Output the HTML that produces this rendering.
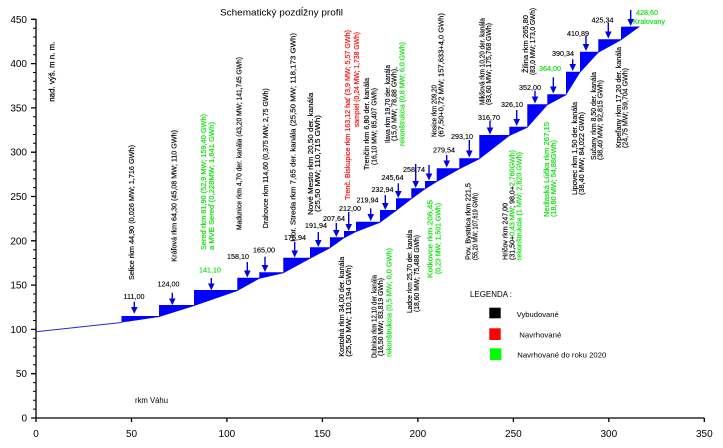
<!DOCTYPE html>
<html><head><meta charset="utf-8"><style>
html,body{margin:0;padding:0;background:#fff;}
svg{display:block;}
text{font-family:"Liberation Sans","DejaVu Sans",sans-serif;}
.v{font-size:7px;fill:#000;stroke:#000;stroke-width:0.15;}
.v .g,.g{fill:#00e000;stroke:#00e000;}
.v .r,.r{fill:#ff0000;stroke:#ff0000;}
.n{font-size:7.2px;text-anchor:middle;fill:#000;stroke:#000;stroke-width:0.12;}
.n.g{fill:#00e000;stroke:#00e000;}
.ax{font-size:10px;fill:#000;}
</style></head><body>
<svg width="723" height="448" viewBox="0 0 723 448" xmlns="http://www.w3.org/2000/svg">
<rect width="723" height="448" fill="#fff"/>
<!-- title -->
<text x="220" y="15.5" font-size="9.5" textLength="123" lengthAdjust="spacingAndGlyphs">Schematický pozdĺžny profil</text>
<!-- y axis title -->
<text transform="translate(54.5,101.7) rotate(-90)" font-size="8" textLength="60" lengthAdjust="spacingAndGlyphs" stroke="#000" stroke-width="0.2">nad. výš. m n. m.</text>

<!-- axes -->
<g stroke="#000" stroke-width="1.3" fill="none">
<line x1="36" y1="19" x2="36" y2="418.5"/>
<line x1="35.5" y1="418" x2="704.5" y2="418"/>
<path d="M31 418H36M31 373.7H36M31 329.4H36M31 285.1H36M31 240.8H36M31 196.5H36M31 152.2H36M31 107.9H36M31 63.6H36M31 19.3H36"/>
<path d="M36 418V422M131.5 418V422M226.9 418V422M322.4 418V422M417.9 418V422M513.4 418V422M608.8 418V422M704.3 418V422"/>
</g>
<g stroke="#000" stroke-width="1" fill="none">
<path d="M33 409.1H36M33 400.3H36M33 391.4H36M33 382.6H36M33 364.8H36M33 356H36M33 347.1H36M33 338.3H36M33 320.5H36M33 311.7H36M33 302.8H36M33 294H36M33 276.2H36M33 267.4H36M33 258.5H36M33 249.7H36M33 231.9H36M33 223.1H36M33 214.2H36M33 205.4H36M33 187.6H36M33 178.8H36M33 169.9H36M33 161.1H36M33 143.3H36M33 134.5H36M33 125.6H36M33 116.8H36M33 99H36M33 90.2H36M33 81.3H36M33 72.5H36M33 54.7H36M33 45.9H36M33 37H36M33 28.2H36"/>
</g>
<!-- y labels -->
<g class="ax" text-anchor="end">
<text x="27" y="421.5">0</text>
<text x="27" y="377.2">50</text>
<text x="27" y="332.9">100</text>
<text x="27" y="288.6">150</text>
<text x="27" y="244.3">200</text>
<text x="27" y="200">250</text>
<text x="27" y="155.7">300</text>
<text x="27" y="111.4">350</text>
<text x="27" y="67.1">400</text>
<text x="27" y="22.8">450</text>
</g>
<!-- x labels -->
<g class="ax" text-anchor="middle">
<text x="36" y="437">0</text>
<text x="131.5" y="437">50</text>
<text x="226.9" y="437">100</text>
<text x="322.4" y="437">150</text>
<text x="417.9" y="437">200</text>
<text x="513.4" y="437">250</text>
<text x="608.8" y="437">300</text>
<text x="704.3" y="437">350</text>
</g>
<text x="135" y="403" font-size="8" textLength="33" lengthAdjust="spacingAndGlyphs">rkm Váhu</text>

<!-- river profile -->
<line x1="36" y1="331.7" x2="121.5" y2="322.5" stroke="#2828d8" stroke-width="1"/>
<polygon fill="#0000ff" points="121.5,316 159,316 159,305 194,305 194,290 237.3,290 237.3,277.7 259.3,277.7 259.3,272.3 283.3,272.3 283.3,257.7 310,257.7 310,247.3 330,247.3 330,237.3 344,237.3 344,231 356,231 356,221.7 380,221.7 380,210 396,210 396,198.3 411.3,198.3 411.3,188.3 425,188.3 425,181 436.7,181 436.7,168.3 459.3,168.3 459.3,158.3 479.3,158.3 479.3,135 509.3,135 509.3,126.7 527.3,126.7 527.3,104.3 547.3,104.3 547.3,94.3 566,94.3 566,71.7 580,71.7 580,51.7 598.3,51.7 598.3,39.3 621,39.3 621,26.7 640,26.5 621,40.3 598.3,52.7 580,72.7 566,95.3 547.3,105.3 527.3,127.7 509.3,136 479.3,159.3 459.3,169.3 436.7,182 425,189.3 411.3,199.3 396,211 380,222.7 356,232 344,238.3 330,248.3 310,258.7 283.3,273.3 259.3,278.7 237.3,291 194,306 159,317 121.5,322.5"/>

<!-- arrows -->
<g stroke="#0000e0" stroke-width="1.4">
<line x1="134.3" y1="301.7" x2="134.3" y2="309"/>
<line x1="172.3" y1="292.7" x2="172.3" y2="300"/>
<line x1="211.3" y1="278" x2="211.3" y2="285"/>
<line x1="247.3" y1="262" x2="247.3" y2="272"/>
<line x1="265" y1="256.7" x2="265" y2="266.5"/>
<line x1="294.7" y1="242" x2="294.7" y2="252"/>
<line x1="318.3" y1="232" x2="318.3" y2="241.5"/>
<line x1="336.3" y1="223" x2="336.3" y2="231.5"/>
<line x1="348.7" y1="212" x2="348.7" y2="225.5"/>
<line x1="370.7" y1="208.3" x2="370.7" y2="215.5"/>
<line x1="385.3" y1="195" x2="385.3" y2="204.5"/>
<line x1="398.3" y1="183.3" x2="398.3" y2="192.5"/>
<line x1="415.7" y1="164" x2="415.7" y2="182.5"/>
<line x1="429" y1="165" x2="429" y2="175"/>
<line x1="446.7" y1="155" x2="446.7" y2="162"/>
<line x1="469.3" y1="140" x2="469.3" y2="152"/>
<line x1="490" y1="120.7" x2="490" y2="129"/>
<line x1="516.7" y1="110" x2="516.7" y2="120.5"/>
<line x1="535" y1="90.7" x2="535" y2="98"/>
<line x1="553.3" y1="77.3" x2="553.3" y2="88"/>
<line x1="572.7" y1="59.3" x2="572.7" y2="65.5"/>
<line x1="586" y1="35.7" x2="586" y2="45.5"/>
<line x1="608.3" y1="22.7" x2="608.3" y2="33"/>
<line x1="630.7" y1="10" x2="630.7" y2="20.5"/>
</g>
<g fill="#0000e0">
<polygon points="131,307 137.6,307 134.3,313.8"/>
<polygon points="169,298.5 175.6,298.5 172.3,305.3"/>
<polygon points="208,283.5 214.6,283.5 211.3,290.3"/>
<polygon points="244,270.5 250.6,270.5 247.3,277.5"/>
<polygon points="261.7,265 268.3,265 265,272"/>
<polygon points="291.4,250.5 298,250.5 294.7,257.5"/>
<polygon points="315,240 321.6,240 318.3,247"/>
<polygon points="333,230 339.6,230 336.3,237"/>
<polygon points="345.4,224 352,224 348.7,231"/>
<polygon points="367.4,214 374,214 370.7,221"/>
<polygon points="382,203 388.6,203 385.3,210"/>
<polygon points="395,191 401.6,191 398.3,198"/>
<polygon points="412.4,181 419,181 415.7,188"/>
<polygon points="425.7,173.5 432.3,173.5 429,180.5"/>
<polygon points="443.4,160.5 450,160.5 446.7,167.5"/>
<polygon points="466,150.5 472.6,150.5 469.3,157.5"/>
<polygon points="486.7,127.5 493.3,127.5 490,134.5"/>
<polygon points="513.4,119 520,119 516.7,126"/>
<polygon points="531.7,96.5 538.3,96.5 535,103.5"/>
<polygon points="550,86.5 556.6,86.5 553.3,93.5"/>
<polygon points="569.4,64 576,64 572.7,71"/>
<polygon points="582.7,44 589.3,44 586,51"/>
<polygon points="605,31.5 611.6,31.5 608.3,38.5"/>
<polygon points="627.4,19 634,19 630.7,26"/>
</g>

<!-- level labels -->
<text class="n" x="134" y="299.2">111,00</text>
<text class="n" x="168.5" y="286.5">124,00</text>
<text class="n g" x="210" y="272.5">141,10</text>
<text class="n" x="238" y="259.2">158,10</text>
<text class="n" x="264" y="252.5">165,00</text>
<text class="n" x="295" y="240.2">175,94</text>
<text class="n" x="316" y="228.2">191,94</text>
<text class="n" x="334" y="220.8">207,64</text>
<text class="n" x="350" y="210.8">212,00</text>
<text class="n" x="367.5" y="202.5">219,94</text>
<text class="n" x="382.5" y="191.8">232,94</text>
<text class="n" x="392.5" y="180">245,64</text>
<text class="n" x="414" y="172">258,74</text>
<text class="n" x="444" y="152.5">279,54</text>
<text class="n" x="462" y="139.2">293,10</text>
<text class="n" x="489" y="119.8">316,70</text>
<text class="n" x="512" y="106.8">326,10</text>
<text class="n" x="530" y="89.8">352,00</text>
<text class="n g" x="550" y="70.8">364,00</text>
<text class="n" x="563" y="55.8">390,34</text>
<text class="n" x="578" y="35.8">410,89</text>
<text class="n" x="602.5" y="22.5">425,34</text>
<text class="n g" x="647" y="15.2">428,60</text>
<text class="n g" x="649" y="24.2">Kralovany</text>

<!-- vertical labels -->
<g class="v">
<text transform="translate(134.2,280) rotate(-90)" textLength="135" lengthAdjust="spacingAndGlyphs">Selice rkm 44,90 (0,026 MW; 1,716 GWh)</text>
<text transform="translate(176.5,261.7) rotate(-90)" textLength="131.7" lengthAdjust="spacingAndGlyphs">Kráľová rkm 64,30 (45,08 MW; 110 GWh)</text>
<text class="g" transform="translate(205.8,250) rotate(-90)" textLength="136" lengthAdjust="spacingAndGlyphs">Sereď rkm 81,90 (52,9 MW; 159,40 GWh)</text>
<text class="g" transform="translate(214.2,250) rotate(-90)" textLength="128" lengthAdjust="spacingAndGlyphs">a MVE Sereď (0,228MW; 1,641 GWh)</text>
<text transform="translate(241.5,230) rotate(-90)" textLength="173" lengthAdjust="spacingAndGlyphs">Madunice rkm 4,70 der. kanála (43,20 MW; 141,745 GWh)</text>
<text transform="translate(268,228.3) rotate(-90)" textLength="140" lengthAdjust="spacingAndGlyphs">Drahovce rkm 114,60 (0,375 MW; 2,75 GWh)</text>
<text transform="translate(295.5,241.7) rotate(-90)" textLength="208.7" lengthAdjust="spacingAndGlyphs">Hor. Streda rkm 7,65 der. kanála (25,50 MW; 118,173 GWh)</text>
<text transform="translate(313,215) rotate(-90)" textLength="122.3" lengthAdjust="spacingAndGlyphs">Nové Mesto rkm 20,50 der. kanála</text>
<text transform="translate(320,212) rotate(-90)" textLength="97" lengthAdjust="spacingAndGlyphs">(25,50 MW; 110,715 GWh)</text>
<text class="r" transform="translate(350,200) rotate(-90)" textLength="170" lengthAdjust="spacingAndGlyphs">Trenč. Biskupice rkm 163,12 hať (3,9 MW; 5,57 GWh)</text>
<text class="r" transform="translate(359,127) rotate(-90)" textLength="95" lengthAdjust="spacingAndGlyphs">sampiel (0,24 MW; 1,738 GWh)</text>
<text transform="translate(369.2,170) rotate(-90)" textLength="92" lengthAdjust="spacingAndGlyphs">Trenčín rkm 6,80 der. kanála</text>
<text transform="translate(376.5,165) rotate(-90)" textLength="77" lengthAdjust="spacingAndGlyphs">(16,10 MW; 85,407 GWh)</text>
<text transform="translate(390,143) rotate(-90)" textLength="78" lengthAdjust="spacingAndGlyphs">Ilava rkm 19,70 der. kanála</text>
<text transform="translate(396.5,141) rotate(-90)" textLength="74" lengthAdjust="spacingAndGlyphs">(15,0 MW; 78,88 GWh),</text>
<text class="g" transform="translate(404.5,146) rotate(-90)" textLength="104" lengthAdjust="spacingAndGlyphs">rekonštrukcia (0,8 MW; 6,0 GWh)</text>
<text transform="translate(436.5,137) rotate(-90)" textLength="52" lengthAdjust="spacingAndGlyphs">Nosice rkm 209,20</text>
<text transform="translate(443.5,137) rotate(-90)" textLength="124" lengthAdjust="spacingAndGlyphs">(67,50+0,72 MW; 157,633+4,0 GWh)</text>
<text transform="translate(484.5,105) rotate(-90)" textLength="87" lengthAdjust="spacingAndGlyphs">Mikšová rkm 10,20 der. kanála</text>
<text transform="translate(491,105) rotate(-90)" textLength="82" lengthAdjust="spacingAndGlyphs">(93,60 MW; 175,768 GWh)</text>
<text transform="translate(528,73) rotate(-90)" textLength="58" lengthAdjust="spacingAndGlyphs">Žilina rkm 265,80</text>
<text transform="translate(535,75) rotate(-90)" textLength="67" lengthAdjust="spacingAndGlyphs">(83,0 MW; 173,0 GWh)</text>

<text transform="translate(344.2,356.7) rotate(-90)" textLength="100" lengthAdjust="spacingAndGlyphs">Kostolná rkm 34,00 der. kanála</text>
<text transform="translate(350.8,356.7) rotate(-90)" textLength="91.7" lengthAdjust="spacingAndGlyphs">(25,50 MW; 110,194 GWh)</text>
<text transform="translate(376.5,358) rotate(-90)" textLength="83" lengthAdjust="spacingAndGlyphs">Dubnica rkm 12,10 der. kanála</text>
<text transform="translate(383.2,356) rotate(-90)" textLength="78" lengthAdjust="spacingAndGlyphs">(16,50 MW; 83,819 GWh)</text>
<text class="g" transform="translate(391.5,356.7) rotate(-90)" textLength="108.7" lengthAdjust="spacingAndGlyphs">rekonštrukcia (0,5 MW; 0,0 GWh)</text>
<text transform="translate(411.8,313) rotate(-90)" textLength="83" lengthAdjust="spacingAndGlyphs">Ladce rkm 25,70 der. kanála</text>
<text transform="translate(419,312) rotate(-90)" textLength="77" lengthAdjust="spacingAndGlyphs">(18,60 MW; 75,488 GWh)</text>
<text class="g" transform="translate(432.5,278) rotate(-90)" textLength="78" lengthAdjust="spacingAndGlyphs">Kotkovce rkm 206,45</text>
<text class="g" transform="translate(440.5,274) rotate(-90)" textLength="71" lengthAdjust="spacingAndGlyphs">(0,23 MW; 1,501 GWh)</text>
<text transform="translate(470.5,260) rotate(-90)" textLength="77" lengthAdjust="spacingAndGlyphs">Pov. Bystrica rkm 221,5</text>
<text transform="translate(477.5,260) rotate(-90)" textLength="67" lengthAdjust="spacingAndGlyphs">(55,20 MW; 107,619 GWh)</text>
<text transform="translate(507.5,260) rotate(-90)" textLength="57" lengthAdjust="spacingAndGlyphs">Hričov rkm 247,00</text>
<text transform="translate(514.5,260) rotate(-90)" textLength="110" lengthAdjust="spacingAndGlyphs">(31,50+<tspan class="g">0,43 MW</tspan>; 98,0+<tspan class="g">2,760GWh)</tspan></text>
<text class="g" transform="translate(521.5,260) rotate(-90)" textLength="108" lengthAdjust="spacingAndGlyphs">rekonštrukcia (1 MW; 2,820 GWh)</text>
<text class="g" transform="translate(549.2,217) rotate(-90)" textLength="95" lengthAdjust="spacingAndGlyphs">Nedlaská Lúčka rkm 267,15</text>
<text class="g" transform="translate(555.8,217) rotate(-90)" textLength="77" lengthAdjust="spacingAndGlyphs">(18,80 MW; 54,88GWh)</text>
<text transform="translate(576.8,195) rotate(-90)" textLength="93" lengthAdjust="spacingAndGlyphs">Lipovec rkm 1,50 der. kanála</text>
<text transform="translate(584,195) rotate(-90)" textLength="83" lengthAdjust="spacingAndGlyphs">(38,40 MW; 84,022 GWh)</text>
<text transform="translate(595.8,160) rotate(-90)" textLength="88" lengthAdjust="spacingAndGlyphs">Sučany rkm 8,50 der. kanála</text>
<text transform="translate(602.5,160) rotate(-90)" textLength="80" lengthAdjust="spacingAndGlyphs">(38,40 MW; 92,815 GWh)</text>
<text transform="translate(620.8,148) rotate(-90)" textLength="101" lengthAdjust="spacingAndGlyphs">Krpeľany  rkm 17,20 der. kanála</text>
<text transform="translate(627.5,148) rotate(-90)" textLength="80" lengthAdjust="spacingAndGlyphs">(24,75 MW; 59,704 GWh)</text>
</g>

<!-- legend -->
<text x="470" y="297" font-size="8" textLength="42" lengthAdjust="spacingAndGlyphs">LEGENDA :</text>
<rect x="489.3" y="307.7" width="11.4" height="10.6" fill="#000"/>
<rect x="489.3" y="328.3" width="11.4" height="11.7" fill="#ff0000"/>
<rect x="490" y="348.3" width="11.4" height="11.7" fill="#00ff00"/>
<text x="516.7" y="317" font-size="7.5" textLength="42" lengthAdjust="spacingAndGlyphs">Vybudované</text>
<text x="519.3" y="337.7" font-size="7.5" textLength="42" lengthAdjust="spacingAndGlyphs">Navrhované</text>
<text x="517.3" y="357.7" font-size="7.5" textLength="89" lengthAdjust="spacingAndGlyphs">Navrhované do roku 2020</text>
</svg>
</body></html>
